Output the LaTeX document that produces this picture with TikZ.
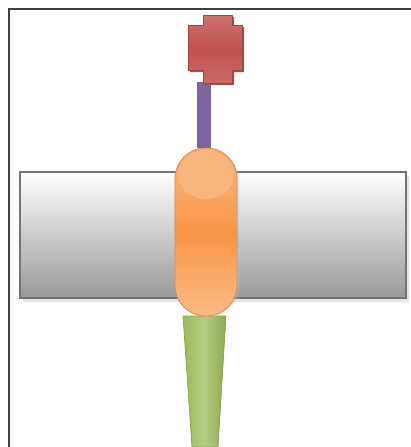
\documentclass[tikz,border=0pt]{standalone}
\usetikzlibrary{positioning,shadows}

\definecolor{ligandred}{HTML}{C0504D}
\definecolor{tetherpurple}{HTML}{8064A2}
\definecolor{bodyorange}{HTML}{F79646}
\definecolor{tailgreen}{HTML}{9BBB59}

\begin{document}
\begin{tikzpicture}[x=0.025cm, y=-0.025cm,
    frame/.style={draw=black!75, line width=1.5pt},
    membrane/.style={rectangle, draw=black!55, line width=1.6pt, top color=white, bottom color=black!40,
        minimum width=9.65cm, minimum height=3.15cm,
        drop shadow={shadow xshift=2pt, shadow yshift=-2.5pt, fill=black!25, opacity=.4}},
    receptor/.style={rectangle, rounded corners=0.77cm, draw=bodyorange!85!black!90, line width=0.6pt,
        top color=bodyorange!65, bottom color=bodyorange!65, middle color=bodyorange,
        minimum width=1.55cm, minimum height=4.2cm,
        drop shadow={shadow xshift=1.5pt, shadow yshift=-1pt, fill=black!25, opacity=.35}},
    topsheen/.style={draw=bodyorange!90, line width=0.4pt, fill=bodyorange!70!white},
    tether/.style={draw=tetherpurple, line width=0.35cm},
    ligand/.style={draw=ligandred!85!black, line width=0.4pt, top color=ligandred!80!white, bottom color=ligandred!85!white, middle color=ligandred},
    tail/.style={draw=tailgreen!85!black, line width=0.5pt, left color=tailgreen, right color=tailgreen!90!black, middle color=tailgreen!75!white}]

\useasboundingbox (0,0) rectangle (411,447);

% Frame
\draw[frame] (9,447) -- (9,9) -- (411,9);

% Membrane
\node[membrane] (membrane) at (213,235) {};

% Tail below the membrane
\path[tail] (183,316) -- (226,316) -- (218,447) -- (192,447) -- cycle;

% Receptor body
\node[receptor] (body) at (206,232) {};
\draw[topsheen] (body.north) ++(0,27) ellipse [x radius=29, y radius=25];

% Tether and ligand
\coordinate (anchor) at (204,82);
\draw[tether] (anchor) -- (body.north -| anchor);
\fill[ligandred!60!black!80] (205,17) -- (234,17) -- (234,27) -- (244,27) -- (244,72) -- (234,72) -- (234,85)
    -- (205,85) -- (205,72) -- (190,72) -- (190,27) -- (205,27) -- cycle;
\path[ligand] (203,15) -- (232,15) -- (232,25) -- (242,25) -- (242,70) -- (232,70) -- (232,83)
    -- (203,83) -- (203,70) -- (188,70) -- (188,25) -- (203,25) -- cycle;

\end{tikzpicture}
\end{document}
